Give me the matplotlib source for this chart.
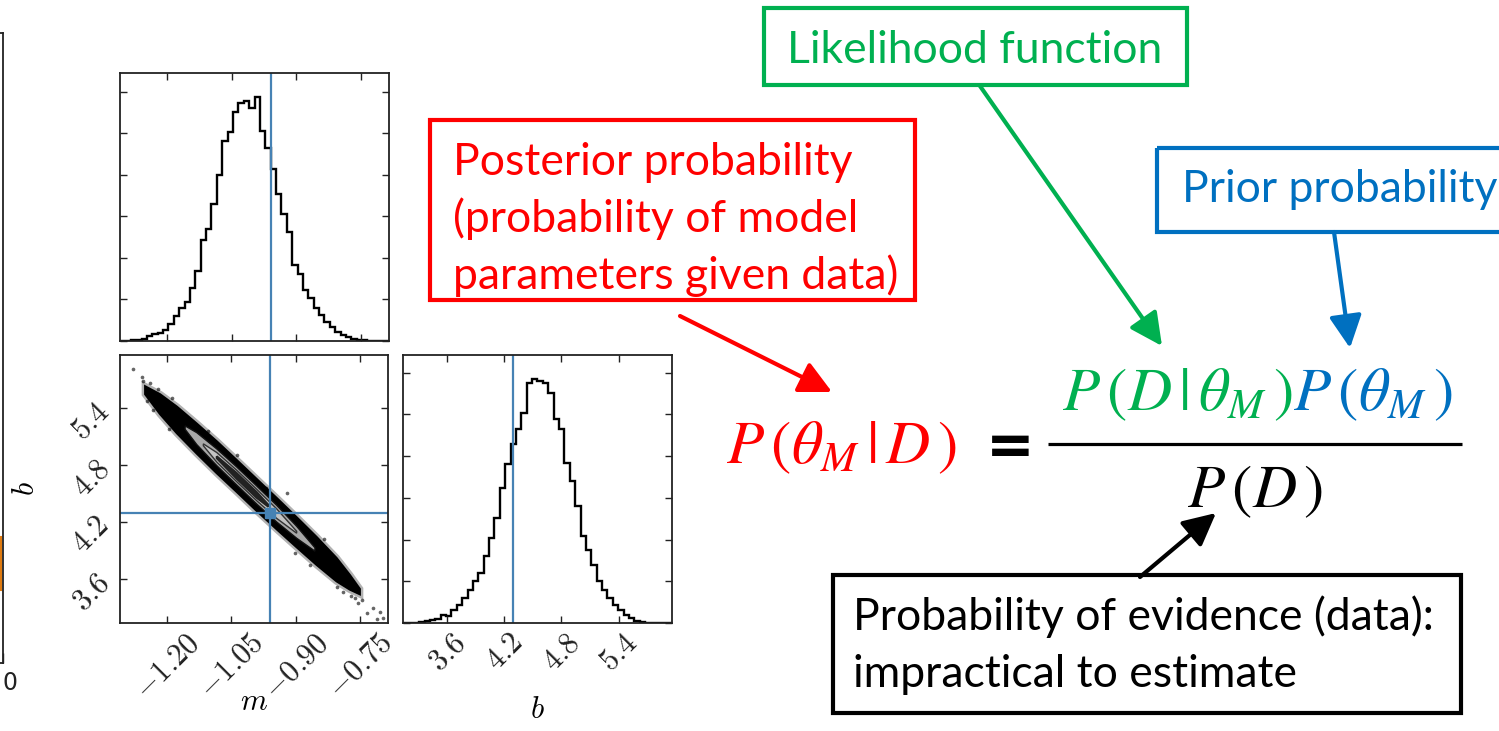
import numpy as np
import matplotlib.pyplot as plt
from matplotlib.patches import Rectangle, Polygon
from matplotlib.ticker import MultipleLocator

plt.rcParams['mathtext.fontset'] = 'cm'

# line fit posterior: slope m, intercept b
m_true, b_true = -0.9594, 4.294
m_range = (-1.309, -0.685)
b_range = (3.14, 5.96)
m_ticks = [-1.20, -1.05, -0.90, -0.75]
b_ticks = [3.6, 4.2, 4.8, 5.4]

# 1D marginal histograms (50 bins each)
m_counts = [0, 0, 2, 3, 5, 15, 20, 23, 33, 50, 75, 98, 118, 160, 210, 303, 338, 411, 498, 603,
            628, 688, 715, 723, 701, 733, 633, 581, 518, 443, 381, 328, 228, 203, 153, 128, 98,
            78, 58, 43, 28, 18, 13, 7, 4, 2, 1, 0, 0, 0]
b_counts = [0, 0, 1, 2, 5, 8, 12, 25, 22, 40, 55, 75, 100, 125, 150, 200, 255, 315, 405, 475,
            535, 580, 630, 720, 730, 725, 720, 690, 610, 580, 480, 425, 350, 260, 220, 175, 125,
            100, 75, 55, 38, 25, 15, 6, 3, 1, 1, 0, 0, 0]

# 2D joint: dense sample band, contour levels and stray samples
band_m = [-1.2505, -1.2156, -1.1767, -1.1302, -1.0837, -1.0372, -0.9907, -0.9442, -0.8977,
          -0.8512, -0.8047, -0.7737, -0.7505]
band_hi = [5.631, 5.547, 5.417, 5.238, 5.052, 4.855, 4.655, 4.456, 4.253, 4.045, 3.824, 3.645, 3.498]
band_lo = [5.547, 5.337, 5.137, 4.922, 4.716, 4.519, 4.319, 4.126, 3.937, 3.751, 3.578, 3.491, 3.442]

gray_m = [-1.1574, -1.1302, -1.0837, -1.0372, -0.9907, -0.9442, -0.8977, -0.8551]
gray_hi = [5.214, 5.143, 4.972, 4.782, 4.582, 4.379, 4.158, 3.932]
gray_lo = [5.178, 5.017, 4.796, 4.592, 4.392, 4.203, 4.032, 3.896]

mid_m = [-1.1149, -1.0837, -1.0372, -0.9907, -0.9442, -0.8977]
mid_hi = [5.025, 4.934, 4.747, 4.547, 4.341, 4.105]
mid_lo = [5.005, 4.834, 4.627, 4.427, 4.241, 4.085]

core_m = [-1.0837, -1.0372, -0.9907, -0.9637]
core_hi = [4.894, 4.717, 4.517, 4.384]
core_lo = [4.874, 4.657, 4.457, 4.364]

stray_m = [-1.2777, -1.2581, -1.2544, -1.2312, -1.1884, -1.2388, -1.1381, -1.0372, -0.9209,
           -0.9016, -0.8667, -0.8047, -0.7893, -0.7621, -0.7544, -0.7349, -0.7195, -0.7040,
           -0.6963, -0.7116, -1.2450, -1.2200, -1.1950, -1.1600, -1.1050, -1.0600, -0.9700,
           -0.8800, -0.8350, -0.7800, -0.7700, -0.7450]
stray_b = [5.814, 5.733, 5.687, 5.382, 5.505, 5.663, 5.259, 4.908, 4.505, 3.874, 3.751, 3.522,
           3.470, 3.400, 3.347, 3.242, 3.295, 3.259, 3.190, 3.182, 5.480, 5.600, 5.180, 5.330,
           5.160, 4.700, 4.560, 3.900, 4.020, 3.560, 3.420, 3.380]

# neighbouring panel: only its right edge shows
side_y = [0.116, 0.2]

red, green, blue = '#FF0000', '#00B050', '#0070C0'
truth_c = '#4682b4'

W, H = 1499, 731
fig = plt.figure(figsize=(W / 100, H / 100), dpi=100)


def px_axes(left, top, right, bottom):
    return fig.add_axes([left / W, 1 - bottom / H, (right - left) / W, (bottom - top) / H])


def style(ax):
    ax.tick_params(direction='in', top=True, right=True, length=5, width=1, colors='#222222')
    for s in ax.spines.values():
        s.set_linewidth(1.3)
        s.set_color('#222222')


def band_poly(m, hi, lo, **kw):
    xy = np.column_stack([list(m) + list(m)[::-1], list(hi) + list(lo)[::-1]])
    return Polygon(xy, closed=True, **kw)


# neighbouring panel, mostly off the left edge
ax_l = px_axes(-300, 33, 3, 663)
ax_l.set_xlim(-30, 0)
ax_l.set_ylim(0, 1)
ax_l.plot([-0.2, -0.2], side_y, color='#e07b10', lw=1.5, clip_on=False, zorder=1)
ax_l.set_xticks([0])
ax_l.set_xticklabels(['0'], fontsize=17, ha='left')
ax_l.set_yticks([])
style(ax_l)
ax_l.tick_params(top=False, length=7, pad=6)

# marginal of m
ax_m = px_axes(120, 73, 389, 341)
edges_m = np.linspace(m_range[0], m_range[1], len(m_counts) + 1)
ax_m.stairs(m_counts, edges_m, color='k', lw=1.7)
ax_m.axvline(m_true, color=truth_c, lw=1.6)
ax_m.set_xlim(m_range)
ax_m.set_ylim(0, 1.1 * max(m_counts))
ax_m.set_xticks(m_ticks)
ax_m.set_xticklabels([])
ax_m.yaxis.set_major_locator(MultipleLocator(125))
ax_m.set_yticklabels([])
style(ax_m)

# joint m-b
ax_mb = px_axes(120, 355, 388, 623)
ax_mb.scatter(stray_m, stray_b, s=7, color='k', alpha=0.6, lw=0)
ax_mb.add_patch(band_poly(band_m, band_hi, band_lo, fc='k', ec='k', lw=5, alpha=0.3))
ax_mb.add_patch(band_poly(band_m, band_hi, band_lo, fc='k', ec='k', lw=1.5))
ax_mb.add_patch(band_poly(gray_m, gray_hi, gray_lo, fc='#a8a8a8', ec='#111111', lw=1))
ax_mb.add_patch(band_poly(mid_m, mid_hi, mid_lo, fc='#c4c4c4', ec='#333333', lw=1))
ax_mb.add_patch(band_poly(core_m, core_hi, core_lo, fc='#222222', ec='#222222', lw=1.5))
ax_mb.axvline(m_true, color=truth_c, lw=1.6)
ax_mb.axhline(b_true, color=truth_c, lw=1.6)
ax_mb.plot(m_true, b_true, 's', color=truth_c, ms=7)
ax_mb.set_xlim(m_range)
ax_mb.set_ylim(b_range)
ax_mb.set_xticks(m_ticks)
ax_mb.set_xticklabels([f'${t:.2f}$' for t in m_ticks], rotation=45, fontsize=22)
ax_mb.set_yticks(b_ticks)
ax_mb.set_yticklabels([f'${t:.1f}$' for t in b_ticks], rotation=45, fontsize=22)
ax_mb.set_xlabel('$m$', fontsize=22)
ax_mb.set_ylabel('$b$', fontsize=22)
ax_mb.xaxis.set_label_coords(0.5, -0.24)
ax_mb.yaxis.set_label_coords(-0.30, 0.5)
style(ax_mb)

# marginal of b
ax_b = px_axes(403, 355, 672, 623)
edges_b = np.linspace(b_range[0], b_range[1], len(b_counts) + 1)
ax_b.stairs(b_counts, edges_b, color='k', lw=1.7)
ax_b.axvline(b_true, color=truth_c, lw=1.6)
ax_b.set_xlim(b_range)
ax_b.set_ylim(0, 1.1 * max(b_counts))
ax_b.set_xticks(b_ticks)
ax_b.set_xticklabels([f'${t:.1f}$' for t in b_ticks], rotation=45, fontsize=22)
ax_b.yaxis.set_major_locator(MultipleLocator(125))
ax_b.set_yticklabels([])
ax_b.set_xlabel('$b$', fontsize=22)
ax_b.xaxis.set_label_coords(0.5, -0.27)
style(ax_b)

# annotation layer in pixel units
ov = fig.add_axes([0, 0, 1, 1])
ov.set_xlim(0, W)
ov.set_ylim(H, 0)
ov.axis('off')

box_font = dict(family='Lato', fontsize=32, va='baseline', ha='left')

ov.add_patch(Rectangle((764, 8), 423, 77, fill=False, ec=green, lw=3))
ov.text(787, 63, 'Likelihood function', color=green, **box_font)

ov.add_patch(Rectangle((430, 120), 485, 180, fill=False, ec=red, lw=3))
for i, line in enumerate(['Posterior probability', '(probability of model',
                          'parameters given data)']):
    ov.text(453, 175 + 57 * i, line, color=red, **box_font)

ov.add_patch(Rectangle((1157, 148), 360, 84, fill=False, ec=blue, lw=3))
ov.text(1182, 202, 'Prior probability', color=blue, **box_font)

ov.add_patch(Rectangle((833, 575), 628, 138, fill=False, ec='k', lw=3))
for i, line in enumerate(['Probability of evidence (data):', 'impractical to estimate']):
    ov.text(853, 630 + 57 * i, line, color='k', **box_font)

arrows = [((980, 86), (1162, 346), green),
          ((680, 316), (832, 392), red),
          ((1334, 232), (1350, 348), blue),
          ((1140, 577), (1216, 513), 'k')]
for start, end, c in arrows:
    ov.annotate('', xy=end, xytext=start,
                arrowprops=dict(arrowstyle='-|>,head_length=0.9,head_width=0.45', color=c,
                                lw=3, mutation_scale=22, shrinkA=0, shrinkB=0))

# Bayes' rule
eq = dict(fontsize=44, math_fontfamily='stix', va='baseline')
ov.text(726, 463, r'$P\,(\theta_M\,|\,D\,)$', color=red, ha='left', **eq)
ov.text(1010, 447, '=', color='k', fontsize=42, fontweight='bold', ha='center', va='center')
ov.plot([1048, 1462], [444, 444], color='k', lw=2.3, solid_capstyle='butt')

num_g = ov.text(0, 410, r'$P\,(D\,|\,\theta_M\,)$', color=green, ha='left', **eq)
num_b = ov.text(0, 410, r'$P\,(\theta_M\,)$', color=blue, ha='left', **eq)
fig.canvas.draw()
rend = fig.canvas.get_renderer()
wg = num_g.get_window_extent(rend).width
wb = num_b.get_window_extent(rend).width
x0 = 1257 - (wg + wb) / 2
num_g.set_x(x0)
num_b.set_x(x0 + wg)
ov.text(1255, 507, r'$P\,(D\,)$', color='k', ha='center', **eq)

fig.savefig('out.png', dpi=100)
